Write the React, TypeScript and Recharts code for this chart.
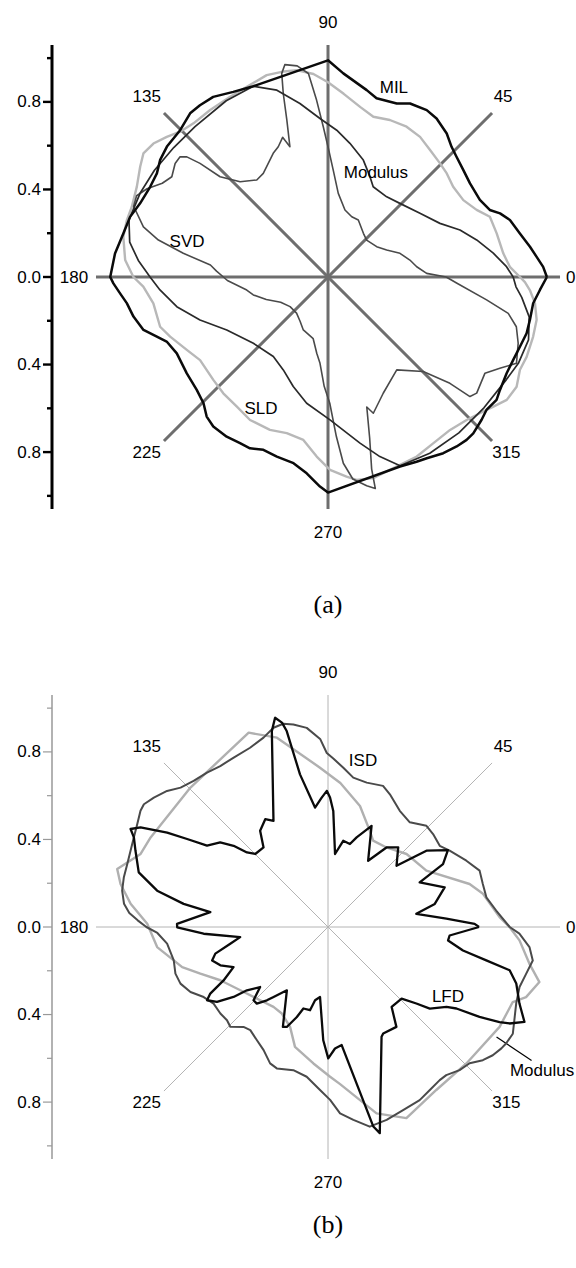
import React from 'react';
import { ScatterChart, Scatter, XAxis, YAxis, ReferenceLine, ReferenceDot } from 'recharts';

// every curve is a list of [angle in degrees, radius]
type Pt = [number, number];

// ---------- panel (a) ----------
const milA: Pt[] = [
  [0, 1.0], [2.7, 0.984], [5.6, 0.957], [8.5, 0.933], [12.8, 0.899], [17.4, 0.871], [20.3, 0.838],
  [22.5, 0.8], [26.9, 0.778], [33.4, 0.777], [38.3, 0.788], [43.1, 0.804], [46.5, 0.82], [50.4, 0.851],
  [55.6, 0.878], [59.4, 0.886], [64.7, 0.877], [68.4, 0.853], [74.8, 0.846], [78.3, 0.872], [85.7, 0.933],
  [90, 0.99], [111.4, 0.936], [117.1, 0.95], [122.5, 0.976], [126.7, 0.979], [130.1, 0.978], [135.2, 0.952],
  [141, 0.947], [145.1, 0.935], [148.8, 0.914], [153.1, 0.911], [158.6, 0.922], [163.1, 0.945], [168, 0.956],
  [173.7, 0.979], [180, 0.995], [181.7, 0.981], [184.5, 0.953], [187.4, 0.927], [191.5, 0.907], [196, 0.877],
  [199.2, 0.828], [201.8, 0.794], [206.8, 0.774], [214.3, 0.781], [220.7, 0.791], [225.4, 0.81], [229, 0.845],
  [232.5, 0.861], [237.6, 0.864], [242.1, 0.859], [245.5, 0.86], [249.5, 0.843], [254.1, 0.853], [259.5, 0.865],
  [263.8, 0.902], [267.8, 0.958], [270, 0.985], [290.8, 0.926], [295.6, 0.936], [298.6, 0.943], [303.2, 0.962],
  [307.2, 0.972], [310.4, 0.977], [312.9, 0.975], [317.1, 0.958], [320, 0.945], [323.9, 0.953], [326.7, 0.94],
  [331.7, 0.927], [335.9, 0.927], [340.1, 0.933], [344.2, 0.943], [348, 0.943], [352.7, 0.945], [356.5, 0.97],
];

const sldA: Pt[] = [
  [0, 0.877], [3.2, 0.832], [7.7, 0.808], [14.5, 0.796], [20.4, 0.789], [24.3, 0.745], [29.6, 0.711],
  [35.8, 0.705], [41.1, 0.72], [45.4, 0.729], [51.2, 0.744], [56.7, 0.766], [62.4, 0.775], [68.5, 0.771],
  [74.2, 0.761], [79.2, 0.79], [85.1, 0.84], [90, 0.89], [94.1, 0.93], [98.6, 0.956], [102.7, 0.961],
  [106.9, 0.964], [113.1, 0.945], [118.5, 0.937], [125.2, 0.934], [131.2, 0.933], [135.5, 0.947], [139, 0.976],
  [142.6, 1.004], [146.2, 1.015], [149.6, 0.995], [154.7, 0.966], [160.3, 0.952], [164.2, 0.955], [168.9, 0.953],
  [175.2, 0.93], [180, 0.889], [183, 0.845], [188.6, 0.807], [196.5, 0.8], [200.7, 0.771], [207.3, 0.726],
  [213, 0.697], [221.9, 0.704], [228, 0.715], [234.9, 0.724], [241.4, 0.744], [249.2, 0.747], [255.2, 0.738],
  [261.4, 0.753], [266.4, 0.822], [270.6, 0.881], [275.3, 0.916], [278, 0.936], [282.7, 0.942], [285.7, 0.931],
  [291, 0.919], [296.3, 0.915], [302.3, 0.899], [308.6, 0.894], [314.1, 0.91], [318.1, 0.932], [321.9, 0.96],
  [325.5, 0.991], [329.8, 0.997], [334.2, 0.974], [338.1, 0.978], [343.8, 0.976], [348.4, 0.973], [352.8, 0.953],
  [356.3, 0.924], [358.5, 0.9],
];

const svdA: Pt[] = [
  [0, 0.846], [3.3, 0.817], [8.2, 0.763], [14, 0.7], [19.6, 0.64], [25.6, 0.567], [34.7, 0.511], [45.7, 0.47],
  [53.8, 0.454], [63.4, 0.461], [67.3, 0.497], [73.2, 0.558], [80.7, 0.619], [86.6, 0.672], [92.9, 0.725],
  [99.2, 0.803], [105.3, 0.885], [111.4, 0.936], [120, 0.93], [131.5, 0.917], [140, 0.92], [148.4, 0.931],
  [156, 0.94], [164, 0.946], [170, 0.92], [175, 0.87], [180, 0.813], [184.4, 0.77], [191.1, 0.704],
  [198.6, 0.617], [207.6, 0.522], [221.6, 0.456], [235.5, 0.441], [244.3, 0.471], [252.4, 0.525],
  [260.4, 0.585], [270.8, 0.653], [280.9, 0.773], [286.1, 0.854], [290.9, 0.923], [300, 0.93], [310, 0.93],
  [320, 0.93], [330, 0.94], [335.6, 0.955], [342.6, 0.96], [348.8, 0.937], [354, 0.89], [357, 0.86],
];

const modA: Pt[] = [
  [0, 0.54], [2.1, 0.451], [6.6, 0.408], [11.7, 0.382], [18.2, 0.346], [24.7, 0.295], [31.9, 0.262],
  [43.7, 0.244], [51, 0.257], [62, 0.295], [68.5, 0.296], [75.8, 0.316], [83, 0.385], [87.2, 0.489], [90, 0.595],
  [91.8, 0.687], [93.7, 0.81], [95.5, 0.934], [98.3, 0.975], [101.5, 0.99], [102.8, 0.954], [103.7, 0.863],
  [104.7, 0.741], [106.3, 0.62], [108, 0.671], [110.9, 0.637], [113.9, 0.618], [122, 0.558], [126.3, 0.55],
  [132.7, 0.592], [137.1, 0.673], [138.4, 0.782], [139.6, 0.847], [140.9, 0.871], [143.4, 0.87], [147.3, 0.848],
  [150.5, 0.87], [154, 0.92], [157, 0.95], [160, 0.945], [164.8, 0.874], [167.7, 0.793], [170.7, 0.67],
  [174.2, 0.54], [177, 0.51], [180, 0.478], [182, 0.46], [189.1, 0.376], [193.5, 0.351], [200, 0.3],
  [208, 0.245], [218, 0.22], [229, 0.219], [238, 0.24], [245, 0.267], [256.5, 0.29], [261.6, 0.352],
  [264.7, 0.396], [268, 0.5], [270.8, 0.577], [273, 0.73], [274.7, 0.854], [277, 0.93], [280.5, 0.97],
  [282.6, 0.99], [282.8, 0.9], [284.5, 0.76], [286.6, 0.62], [288.4, 0.656], [295.4, 0.588], [306.5, 0.528],
  [315.2, 0.613], [318.9, 0.739], [319.9, 0.848], [322, 0.862], [328.5, 0.841], [332, 0.889], [335.4, 0.947],
  [340.8, 0.92], [345.2, 0.89], [348.6, 0.84], [351.8, 0.732], [357.2, 0.59],
];

// ---------- panel (b) ----------
const isdB: Pt[] = [
  [0, 0.83], [5.6, 0.772], [10.6, 0.736], [15.5, 0.734], [20.4, 0.739], [25.6, 0.701], [32.1, 0.656],
  [36, 0.631], [41.5, 0.641], [45.8, 0.645], [52, 0.607], [58.3, 0.624], [65, 0.669], [68.7, 0.692], [75, 0.683],
  [80.4, 0.692], [84.5, 0.731], [88.2, 0.77], [90.4, 0.795], [92.4, 0.86], [96.1, 0.915], [99.7, 0.939],
  [102.4, 0.951], [105.3, 0.944], [108.8, 0.914], [113.5, 0.893], [119.1, 0.886], [123.8, 0.885], [128.1, 0.896],
  [132.6, 0.907], [136.6, 0.927], [139.8, 0.963], [143.4, 0.991], [146.3, 1.011], [148.2, 1.008], [151.7, 0.99],
  [155.2, 0.977], [158.9, 0.967], [162.6, 0.961], [166.3, 0.96], [170, 0.955], [173.5, 0.938], [176, 0.91],
  [178, 0.87], [180, 0.83], [182, 0.78], [185.9, 0.739], [192.2, 0.721], [197, 0.729], [201, 0.722],
  [205.3, 0.695], [209.4, 0.652], [213.8, 0.629], [218.8, 0.631], [222.7, 0.628], [225.6, 0.638], [229.8, 0.598],
  [233, 0.59], [237.9, 0.611], [242.4, 0.635], [247, 0.677], [250.1, 0.687], [256.4, 0.673], [261.9, 0.691],
  [267.2, 0.746], [270.7, 0.79], [273.7, 0.853], [277.5, 0.889], [281.8, 0.932], [286.9, 0.921], [292.3, 0.904],
  [297.9, 0.895], [302, 0.878], [306.1, 0.866], [308.6, 0.866], [312.6, 0.888], [316.1, 0.898], [319.3, 0.933],
  [322.1, 0.954], [325, 0.967], [326.8, 0.972], [330, 0.975], [333.4, 0.952], [337.9, 0.928], [342.6, 0.917],
  [346.7, 0.93], [350.7, 0.948], [354.3, 0.925], [358, 0.875],
];

const modB: Pt[] = [
  [0, 0.829], [3.3, 0.785], [12.1, 0.724], [16.9, 0.676], [29.8, 0.518], [42.9, 0.49], [53.7, 0.451],
  [62.4, 0.445], [66.5, 0.479], [75.2, 0.572], [85.1, 0.66], [93, 0.73], [105.1, 0.896], [112.2, 0.959],
  [134.6, 0.895], [153.2, 0.908], [158.7, 0.919], [164.6, 0.999], [168.3, 0.968], [173.3, 0.908], [179, 0.826],
  [186.7, 0.786], [192.2, 0.721], [195.4, 0.691], [200.1, 0.621], [206.3, 0.549], [215.8, 0.494], [227.2, 0.456],
  [235.7, 0.442], [241.9, 0.448], [249.2, 0.488], [254.6, 0.568], [263.9, 0.627], [270.8, 0.684], [274.4, 0.72],
  [284.6, 0.88], [292.3, 0.944], [303.6, 0.894], [315.4, 0.888], [329.8, 0.907], [337.9, 0.911], [340.5, 0.96],
  [345.4, 0.998], [349.7, 0.935], [356, 0.877],
];

const lfdB: Pt[] = [
  [0, 0.69], [1.2, 0.67], [4, 0.542], [8.5, 0.408], [12.2, 0.499], [18.8, 0.563], [26, 0.466], [28.7, 0.599],
  [32.7, 0.651], [37.8, 0.569], [41.8, 0.42], [48.6, 0.485], [53.7, 0.451], [58.8, 0.354], [66.7, 0.503],
  [72.3, 0.43], [75.2, 0.392], [80, 0.4], [84.5, 0.335], [87.4, 0.531], [89.1, 0.592], [90.5, 0.622],
  [92.8, 0.592], [96.2, 0.549], [100.4, 0.709], [101.9, 0.915], [102.7, 0.957], [104.2, 0.986], [106, 0.931],
  [117.2, 0.545], [120.2, 0.57], [125.2, 0.538], [129, 0.468], [134.9, 0.471], [137.4, 0.503], [139.3, 0.569],
  [141.9, 0.626], [146.1, 0.666], [148, 0.759], [149.6, 0.852], [152, 0.97], [153.6, 1.007], [155.2, 0.977],
  [158.4, 0.946], [163.9, 0.9], [168, 0.798], [170.9, 0.668], [172.8, 0.542], [178.8, 0.69], [180.1, 0.689],
  [183.1, 0.569], [186.6, 0.404], [189.7, 0.453], [193.3, 0.529], [196.1, 0.551], [199.6, 0.522], [203, 0.469],
  [207.1, 0.536], [209.5, 0.618], [211.2, 0.646], [214, 0.612], [216.5, 0.537], [218, 0.47], [221.5, 0.414],
  [224.5, 0.477], [227.1, 0.478], [230.2, 0.436], [232.1, 0.405], [237, 0.345], [245.7, 0.501], [247.6, 0.494],
  [250.9, 0.435], [253.2, 0.389], [257.8, 0.389], [260, 0.34], [263.5, 0.322], [267.6, 0.518], [270.1, 0.6],
  [273.3, 0.556], [276.6, 0.543], [282.8, 0.935], [284.1, 0.971], [296, 0.558], [297.4, 0.548], [304.4, 0.553],
  [308.5, 0.467], [315.8, 0.469], [319.1, 0.534], [321.3, 0.596], [326, 0.653], [327.6, 0.695], [329.3, 0.805],
  [331, 0.896], [332, 0.939], [334.2, 0.997], [338.2, 0.942], [343.3, 0.898], [346.6, 0.853], [348.1, 0.739],
  [350.1, 0.626], [353.6, 0.552], [356, 0.557],
];

const radiusTicks = [-1, -0.8, -0.6, -0.4, -0.2, 0, 0.2, 0.4, 0.6, 0.8, 1];
const spokeAngles = [0, 45, 90, 135];
const angleLabels = ['0', '45', '90', '135', '180', '225', '270', '315'];

// ---------- drawing ----------
const SANS = 'Arial, "Liberation Sans", Helvetica, sans-serif';
const SERIF = '"Times New Roman", "Liberation Serif", Times, serif';
const W = 576;
const X_DOMAIN: [number, number] = [-1.261, 1.133];
const Y_DOMAIN: [number, number] = [-1.06, 1.06];
const R_SPOKE = 1.06;
const rad = (a: number) => (a * Math.PI) / 180;

const toXY = (pts: Pt[]) => {
  const out = pts.map(([a, r]) => ({ x: r * Math.cos(rad(a)), y: r * Math.sin(rad(a)) }));
  return [...out, out[0]];
};

// where the angle labels sit, in data units
const anglePos: Record<string, { x: number; y: number; anchor: 'start' | 'middle' | 'end' }> = {
  '0': { x: 1.087, y: 0, anchor: 'start' },
  '45': { x: 0.8, y: 0.826, anchor: 'middle' },
  '90': { x: 0, y: 1.164, anchor: 'middle' },
  '135': { x: -0.828, y: 0.826, anchor: 'middle' },
  '180': { x: -1.096, y: 0, anchor: 'end' },
  '225': { x: -0.828, y: -0.8, anchor: 'middle' },
  '270': { x: 0, y: -1.169, anchor: 'middle' },
  '315': { x: 0.815, y: -0.8, anchor: 'middle' },
};

const Empty = () => <g />;

const txt = (s: string, anchor: 'start' | 'middle' | 'end' = 'middle', size = 17, family = SANS) =>
  (p: any) => {
    const vb = p.viewBox || {};
    const x = (vb.x ?? 0) + (vb.width ?? 0) / 2;
    const y = (vb.y ?? 0) + (vb.height ?? 0) / 2;
    return (
      <text x={x} y={y} textAnchor={anchor} dominantBaseline="central" fontSize={size} fontFamily={family} fill="#000">
        {s}
      </text>
    );
  };

const makeTick = (color: string, lw: number) => (props: any) => {
  const { x, y, payload } = props;
  const v = Number(payload.value);
  const major = Math.abs(Math.round(v * 10)) % 4 === 0;
  const len = major ? 9 : 5;
  return (
    <g>
      <line x1={x - len} x2={x} y1={y} y2={y} stroke={color} strokeWidth={lw} />
      {major && (
        <text x={x - 11} y={y} textAnchor="end" dominantBaseline="central" fontSize={17} fontFamily={SANS} fill="#000">
          {Math.abs(v).toFixed(1)}
        </text>
      )}
    </g>
  );
};

type Series = { name: string; pts: Pt[]; color: string; width: number };
type Note = { text: string; x: number; y: number; anchor?: 'start' | 'middle' | 'end'; size?: number; family?: string };

function PolarPanel(p: {
  height: number;
  series: Series[];
  spokeColor: string;
  spokeWidth: number;
  axisColor: string;
  axisWidth: number;
  notes: Note[];
  pointer?: { x1: number; y1: number; x2: number; y2: number };
}) {
  const allNotes: Note[] = [
    ...angleLabels.map((s) => ({ text: s, x: anglePos[s].x, y: anglePos[s].y, anchor: anglePos[s].anchor })),
    ...p.notes,
  ];
  return (
    <ScatterChart width={W} height={p.height} margin={{ top: 45, right: 0, bottom: p.height - 509, left: 0 }}>
      <XAxis type="number" dataKey="x" domain={X_DOMAIN} allowDataOverflow hide />
      <YAxis
        type="number"
        dataKey="y"
        domain={Y_DOMAIN}
        allowDataOverflow
        ticks={radiusTicks}
        interval={0}
        width={52}
        axisLine={{ stroke: p.axisColor, strokeWidth: p.axisWidth }}
        tickLine={false}
        tickSize={0}
        tickMargin={0}
        tick={makeTick(p.axisColor, p.axisWidth * 0.8)}
      />
      {spokeAngles.map((a) => {
        const c = R_SPOKE * Math.cos(rad(a));
        const s = R_SPOKE * Math.sin(rad(a));
        return (
          <ReferenceLine
            key={a}
            segment={[{ x: -c, y: -s }, { x: c, y: s }]}
            stroke={p.spokeColor}
            strokeWidth={p.spokeWidth}
            ifOverflow="visible"
          />
        );
      })}
      {p.pointer && (
        <ReferenceLine
          segment={[{ x: p.pointer.x1, y: p.pointer.y1 }, { x: p.pointer.x2, y: p.pointer.y2 }]}
          stroke="#000"
          strokeWidth={1.2}
          ifOverflow="visible"
        />
      )}
      {p.series.map((s) => (
        <Scatter
          key={s.name}
          name={s.name}
          data={toXY(s.pts)}
          fill={s.color}
          line={{ stroke: s.color, strokeWidth: s.width, strokeLinejoin: 'round' }}
          lineType="joint"
          shape={Empty}
          isAnimationActive={false}
        />
      ))}
      {allNotes.map((n, i) => (
        <ReferenceDot
          key={i}
          x={n.x}
          y={n.y}
          r={0}
          fill="none"
          stroke="none"
          ifOverflow="visible"
          label={txt(n.text, n.anchor ?? 'middle', n.size ?? 17, n.family ?? SANS)}
        />
      ))}
    </ScatterChart>
  );
}

export default function App() {
  return (
    <div style={{ position: 'absolute', left: 0, top: 0, width: W, height: 1268, background: '#fff' }}>
      <div style={{ position: 'absolute', left: 0, top: 0 }}>
        <PolarPanel
          height={640}
          spokeColor="#6e6e6e"
          spokeWidth={3}
          axisColor="#000"
          axisWidth={3}
          series={[
            { name: 'SLD', pts: sldA, color: '#b8b8b8', width: 2.4 },
            { name: 'Modulus', pts: modA, color: '#4a4a4a', width: 1.6 },
            { name: 'SVD', pts: svdA, color: '#2a2a2a', width: 1.7 },
            { name: 'MIL', pts: milA, color: '#0a0a0a', width: 2.5 },
          ]}
          notes={[
            { text: 'MIL', x: 0.301, y: 0.868 },
            { text: 'Modulus', x: 0.219, y: 0.479 },
            { text: 'SVD', x: -0.644, y: 0.16 },
            { text: 'SLD', x: -0.306, y: -0.603 },
            { text: '(a)', x: 0, y: -1.498, size: 26, family: SERIF },
          ]}
        />
      </div>
      <div style={{ position: 'absolute', left: 0, top: 650 }}>
        <PolarPanel
          height={618}
          spokeColor="#b4b4b4"
          spokeWidth={1}
          axisColor="#999"
          axisWidth={1.5}
          series={[
            { name: 'Modulus', pts: modB, color: '#b0b0b0', width: 2.4 },
            { name: 'ISD', pts: isdB, color: '#4a4a4a', width: 2 },
            { name: 'LFD', pts: lfdB, color: '#0a0a0a', width: 2.3 },
          ]}
          notes={[
            { text: 'ISD', x: 0.16, y: 0.76 },
            { text: 'LFD', x: 0.548, y: -0.317 },
            { text: 'Modulus', x: 0.831, y: -0.655, anchor: 'start' },
            { text: '(b)', x: 0, y: -1.361, size: 26, family: SERIF },
          ]}
          pointer={{ x1: 0.77, y1: -0.503, x2: 0.93, y2: -0.61 }}
        />
      </div>
    </div>
  );
}
